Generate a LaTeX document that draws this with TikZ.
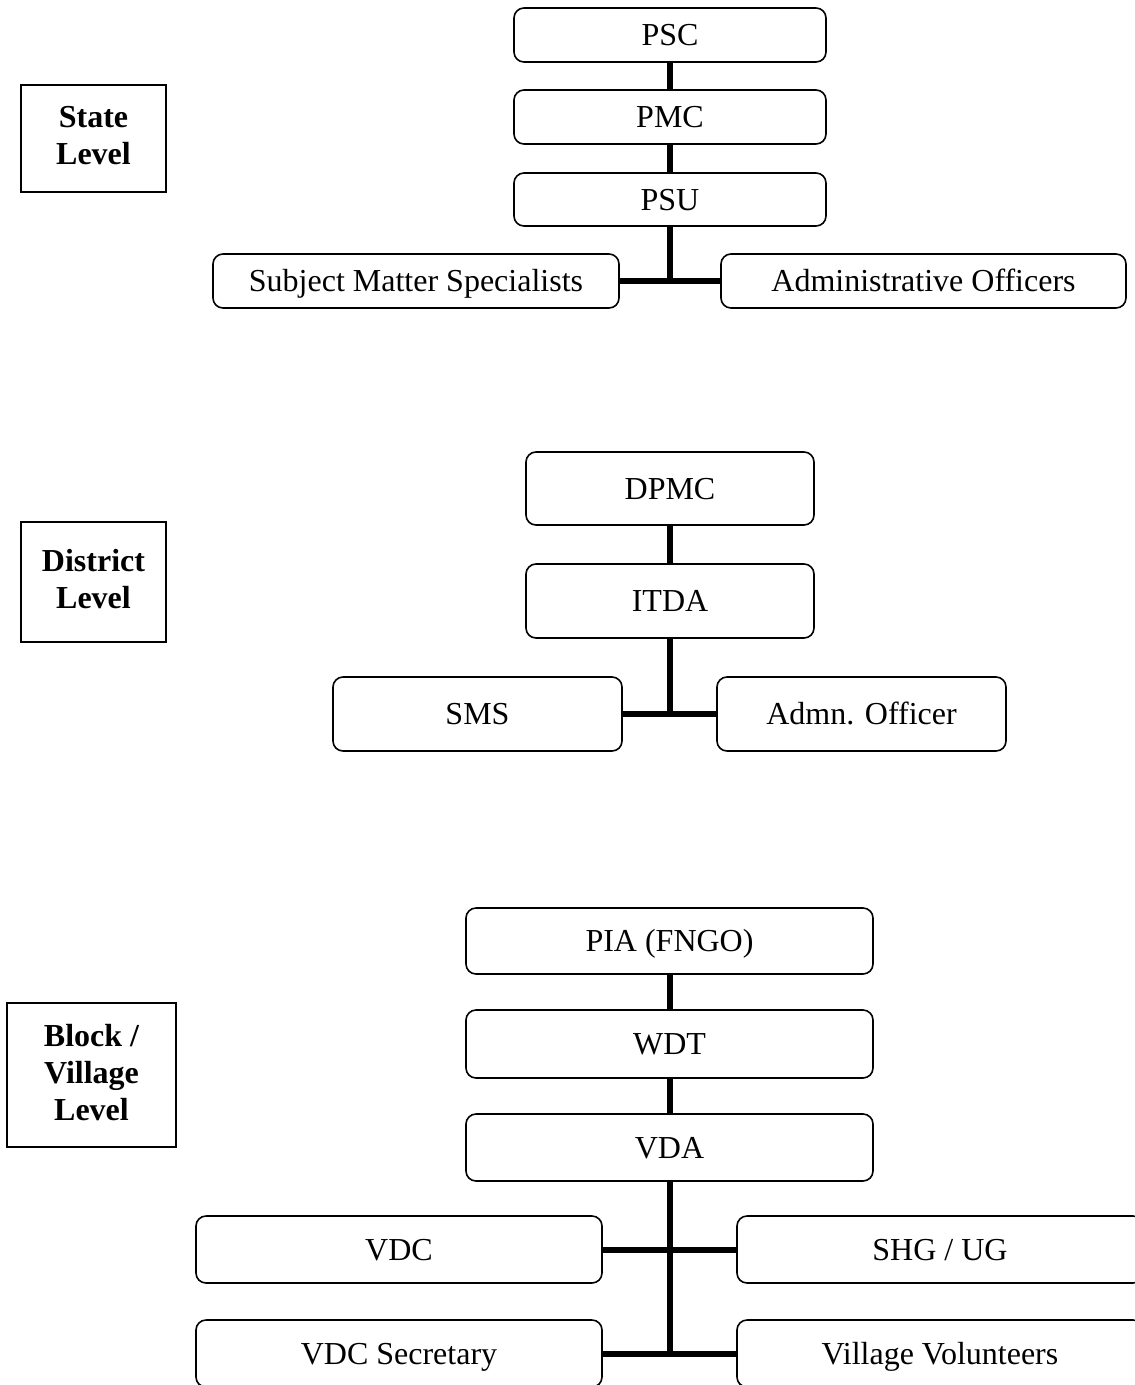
\documentclass[tikz,border=0pt]{standalone}
\usepackage{fontspec}
\setmainfont{Liberation Serif}
\begin{document}
\begin{tikzpicture}[x=1pt,y=-1pt,
  orgbox/.style={draw, rounded corners=10pt, line width=1.6pt, inner sep=0pt,
    text height=21pt, text depth=0pt,
    font=\fontsize{32}{37}\selectfont},
  lvlbox/.style={draw, line width=1.8pt, inner sep=0pt, align=center,
    font=\fontsize{32}{37}\selectfont\bfseries},
  link/.style={line width=6pt}]
\useasboundingbox (0,0) rectangle (1135,1385);
\clip (0,0) rectangle (1135,1385);
% State level
\node[lvlbox, minimum width=145pt, minimum height=107pt] (state) at (93.5,138.5) {State\\Level\\[-31pt]\mbox{}};
\node[orgbox, minimum width=312pt, minimum height=54pt] (psc) at (670,35) {PSC};
\node[orgbox, minimum width=312pt, minimum height=54pt] (pmc) at (670,117) {PMC};
\node[orgbox, minimum width=312pt, minimum height=53pt] (psu) at (670,199.5) {PSU};
\node[orgbox, minimum width=406pt, minimum height=54pt] (sms1) at (416,281) {Subject Matter Specialists};
\node[orgbox, minimum width=405pt, minimum height=54pt] (adm1) at (923.5,281) {Administrative Officers};
\draw[link] (psc) -- (pmc);
\draw[link] (pmc) -- (psu);
\draw[link] (psu.south) -- (psu.south |- sms1.east);
\draw[link] (sms1.east) -- (adm1.west);
% District level
\node[lvlbox, minimum width=145pt, minimum height=120pt] (district) at (93.5,582) {District\\Level\\[-31pt]\mbox{}};
\node[orgbox, minimum width=288pt, minimum height=73pt] (dpmc) at (670,488.5) {DPMC};
\node[orgbox, minimum width=288pt, minimum height=74pt] (itda) at (670,601) {ITDA};
\node[orgbox, minimum width=289pt, minimum height=74pt] (sms2) at (477.5,714) {SMS};
\node[orgbox, minimum width=289pt, minimum height=74pt] (adm2) at (861.5,714) {Admn. Officer};
\draw[link] (dpmc) -- (itda);
\draw[link] (itda.south) -- (itda.south |- sms2.east);
\draw[link] (sms2.east) -- (adm2.west);
% Block / Village level
\node[lvlbox, minimum width=169pt, minimum height=144pt] (block) at (91.5,1075) {Block /\\Village\\Level\\[-31pt]\mbox{}};
\node[orgbox, minimum width=407pt, minimum height=66pt] (pia) at (669.5,941) {PIA (FNGO)};
\node[orgbox, minimum width=407pt, minimum height=68pt] (wdt) at (669.5,1044) {WDT};
\node[orgbox, minimum width=407pt, minimum height=67pt] (vda) at (669.5,1147.5) {VDA};
\node[orgbox, minimum width=406pt, minimum height=67pt] (vdc) at (399,1249.5) {VDC};
\node[orgbox, minimum width=406pt, minimum height=67pt] (shg) at (940,1249.5) {SHG / UG};
\node[orgbox, minimum width=406pt, minimum height=67pt] (vdcs) at (399,1353.5) {VDC Secretary};
\node[orgbox, minimum width=406pt, minimum height=67pt] (vv) at (940,1353.5) {Village Volunteers};
\draw[link] (pia) -- (wdt);
\draw[link] (wdt) -- (vda);
\draw[link] (vda.south) -- (vda.south |- vdcs.east);
\draw[link] (vdc.east) -- (shg.west);
\draw[link] (vdcs.east) -- (vv.west);
\end{tikzpicture}
\end{document}
